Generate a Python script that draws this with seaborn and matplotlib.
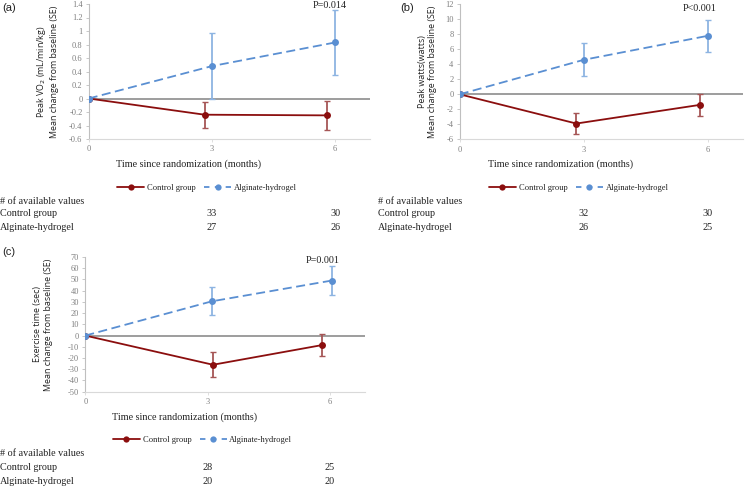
import numpy as np
import pandas as pd
import matplotlib
matplotlib.use("Agg")
import matplotlib.pyplot as plt
import seaborn as sns
from matplotlib.ticker import FuncFormatter, MultipleLocator
from matplotlib.lines import Line2D

sns.set_theme(style="white")
plt.rcParams["font.family"] = ["Liberation Serif", "DejaVu Serif"]
plt.rcParams["axes.unicode_minus"] = False

months = [0, 3, 6]
groups = ["Control group", "Alginate-hydrogel"]

# Panel (a): Peak VO2
a_ctrl = [0, -0.24, -0.25]
a_ctrl_se = [0, 0.19, 0.21]
a_alg = [0, 0.48, 0.83]
a_alg_se = [0, 0.49, 0.48]
a_n_ctrl = [33, 30]
a_n_alg = [27, 26]

# Panel (b): Peak watts
b_ctrl = [0, -3.9, -1.4]
b_ctrl_se = [0, 1.4, 1.5]
b_alg = [0, 4.6, 7.8]
b_alg_se = [0, 2.2, 2.1]
b_n_ctrl = [32, 30]
b_n_alg = [26, 25]

# Panel (c): Exercise time
c_ctrl = [0, -26, -8.5]
c_ctrl_se = [0, 11, 10]
c_alg = [0, 30.5, 49]
c_alg_se = [0, 12.5, 13]
c_n_ctrl = [28, 25]
c_n_alg = [20, 20]

p_labels = ["P=0.014", "P<0.001", "P=0.001"]
panel_tags = ["(a)", "(b)", "(c)"]
ylabels = ["Peak VO$_2$ (mL/min/kg)\nMean change from baseline (SE)",
           "Peak watts(watts)\nMean change from baseline (SE)",
           "Exercise time (sec)\nMean change from baseline (SE)"]

CTRL = "#8B0E0E"
CTRL_ERR = "#A65656"
ALG = "#5A8FD2"
ALG_ERR = "#8DB4E2"
GRID = "#8C8C8C"
TICK = "#7F7F7F"

W, H = 746, 487
fig = plt.figure(figsize=(W / 100, H / 100), dpi=100)

def fx(px):
    return px / W

def fy(py):
    return 1 - py / H

panels = [
    dict(ctrl=a_ctrl, ctrl_se=a_ctrl_se, alg=a_alg, alg_se=a_alg_se,
         n_ctrl=a_n_ctrl, n_alg=a_n_alg, ylim=(-0.6, 1.4), step=0.2,
         box=(88.7, 4, 370, 139), dodge_c=[0, -0.18, -0.2], dodge_a=[0, 0.0, 0.0],
         p_xy=(5.88, 1.385), tag_xy=(2, 8), rows=(164, 188, 201, 214, 228), left=0,
         ylab_x=47),
    dict(ctrl=b_ctrl, ctrl_se=b_ctrl_se, alg=b_alg, alg_se=b_alg_se,
         n_ctrl=b_n_ctrl, n_alg=b_n_alg, ylim=(-6, 12), step=2,
         box=(459.7, 4.3, 743, 139.3), dodge_c=[0, -0.18, -0.18], dodge_a=[0, 0.0, 0.0],
         p_xy=(5.81, 11.5), tag_xy=(400, 8), rows=(164, 188, 201, 214, 228), left=378,
         ylab_x=427.5),
    dict(ctrl=c_ctrl, ctrl_se=c_ctrl_se, alg=c_alg, alg_se=c_alg_se,
         n_ctrl=c_n_ctrl, n_alg=c_n_alg, ylim=(-50, 70), step=10,
         box=(85.3, 257, 364.7, 391.7), dodge_c=[0, 0.13, -0.2], dodge_a=[0, 0.1, 0.04],
         p_xy=(5.83, 67.3), tag_xy=(2, 252), rows=(417, 440, 453, 467, 481), left=0,
         ylab_x=43),
]

for i, p in enumerate(panels):
    l, t, r, b = p["box"]
    ax = fig.add_axes([fx(l), fy(b), fx(r) - fx(l), fy(t) - fy(b)])
    ax.set_facecolor("none")
    xc = [m + d for m, d in zip(months, p["dodge_c"])]
    xa = [m + d for m, d in zip(months, p["dodge_a"])]
    df_c = pd.DataFrame({"month": xc, "value": p["ctrl"]})
    df_a = pd.DataFrame({"month": xa, "value": p["alg"]})

    ax.axhline(0, color=GRID, lw=1.2, zorder=1)
    ax.errorbar(xc, p["ctrl"], yerr=p["ctrl_se"], fmt="none", ecolor=CTRL_ERR,
                elinewidth=1.3, capsize=2.5, capthick=1.0, zorder=2)
    ax.errorbar(xa, p["alg"], yerr=p["alg_se"], fmt="none", ecolor=ALG_ERR,
                elinewidth=1.3, capsize=2.5, capthick=1.0, zorder=2)
    sns.lineplot(data=df_c, x="month", y="value", ax=ax, color=CTRL, lw=1.3,
                 marker="o", markersize=5, markeredgewidth=0, zorder=3,
                 estimator=None, sort=False)
    sns.lineplot(data=df_a, x="month", y="value", ax=ax, color=ALG, lw=1.3,
                 marker="o", markersize=5, markeredgewidth=0, zorder=4,
                 estimator=None, sort=False, linestyle=(0, (5, 2.5)))

    ax.set_xlim(0, 6.85)
    ax.set_ylim(*p["ylim"])
    ax.yaxis.set_major_locator(MultipleLocator(p["step"]))
    ax.yaxis.set_major_formatter(FuncFormatter(lambda v, pos: f"{round(v, 6):g}"))
    ax.set_xticks(months)
    ax.set_xlabel("")
    ax.set_ylabel("")
    for s in ["top", "right"]:
        ax.spines[s].set_visible(False)
    ax.spines["left"].set_color("#BFBFBF")
    ax.spines["bottom"].set_color("#D9D9D9")
    ax.spines["left"].set_linewidth(0.8)
    ax.spines["bottom"].set_linewidth(0.8)
    ax.tick_params(axis="both", labelsize=6, colors=TICK, length=2.5, width=0.6,
                   direction="out", pad=2, left=True, bottom=True)
    ax.tick_params(axis="x", colors="#D9D9D9", labelcolor=TICK)
    ax.tick_params(axis="y", colors="#BFBFBF", labelcolor=TICK)

    ax.text(p["p_xy"][0], p["p_xy"][1], p_labels[i], ha="center", va="center",
            fontsize=7.3, color="#222222")

    # panel tag
    fig.text(fx(p["tag_xy"][0]), fy(p["tag_xy"][1]), panel_tags[i], ha="left", va="center",
             fontsize=8, family=["Liberation Sans", "DejaVu Sans"], color="#222222")
    # y label
    ymid = (t + b) / 2
    fig.text(fx(p["ylab_x"]), fy(ymid), ylabels[i], rotation=90, ha="center", va="center",
             fontsize=6.4, family=["Open Sans", "DejaVu Sans"], color="#222222",
             linespacing=1.15)

    rows = p["rows"]
    # x label
    fig.text(fx(l + (r - l) * 0.355), fy(rows[0]), "Time since randomization (months)",
             ha="center", va="center", fontsize=7.3, color="#222222")

    # legend
    handles = [Line2D([], [], color=CTRL, lw=1.3, marker="o", markersize=4.5, markeredgewidth=0),
               Line2D([], [], color=ALG, lw=1.3, marker="o", markersize=4.5, markeredgewidth=0,
                      linestyle=(0, (3, 3)))]
    fig.legend(handles, groups, loc="center",
               bbox_to_anchor=(fx(l + (r - l) * 0.42), fy(rows[1])), ncol=2, frameon=False,
               fontsize=6.1, handlelength=3.2, handletextpad=0.3, columnspacing=1.0,
               labelcolor="#222222", borderpad=0, borderaxespad=0)

    # table
    tl = p["left"]
    fig.text(fx(tl), fy(rows[2]), "# of available values", ha="left", va="center",
             fontsize=7.3, color="#222222")
    fig.text(fx(tl), fy(rows[3]), groups[0], ha="left", va="center",
             fontsize=7.3, color="#222222")
    fig.text(fx(tl), fy(rows[4]), groups[1], ha="left", va="center",
             fontsize=7.3, color="#222222")
    for j, m in enumerate(months[1:]):
        xp = l + m * (r - l) / 6.85
        fig.text(fx(xp), fy(rows[3]), str(p["n_ctrl"][j]), ha="center", va="center",
                 fontsize=7.3, color="#222222")
        fig.text(fx(xp), fy(rows[4]), str(p["n_alg"][j]), ha="center", va="center",
                 fontsize=7.3, color="#222222")

fig.savefig("out.png", dpi=100, facecolor="white")
